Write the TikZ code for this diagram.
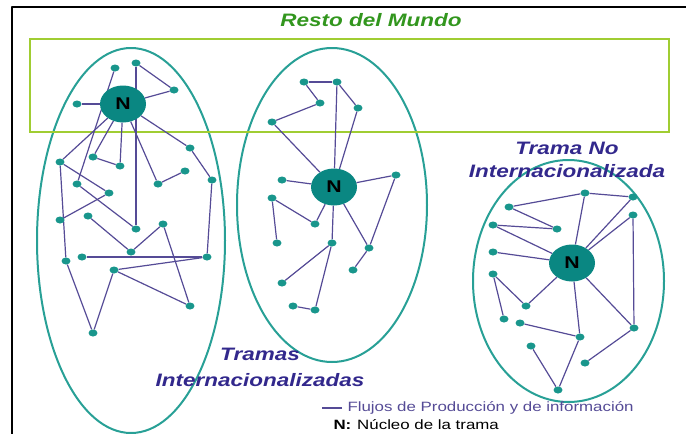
\documentclass[tikz,border=0pt]{standalone}
\usepackage{fontspec}
\setmainfont{Liberation Sans}
\usetikzlibrary{shapes.geometric, positioning}
\pgfdeclarelayer{back}
\pgfsetlayers{back,main}
\definecolor{tealdot}{RGB}{25,150,140}
\definecolor{tealring}{RGB}{40,160,150}
\definecolor{tealcore}{RGB}{10,135,130}
\definecolor{flowline}{RGB}{85,75,150}
\definecolor{mundogreen}{RGB}{160,205,50}
\definecolor{mundotext}{RGB}{50,150,30}
\definecolor{tramatext}{RGB}{50,40,140}
\newcommand{\wide}[1]{\scalebox{1.25}[1]{#1}}

\begin{document}
\begin{tikzpicture}[x=1pt, y=-1pt, line join=round]
    % Define styles
    \tikzstyle{dot} = [ellipse, fill=tealdot, inner sep=0pt, minimum width=9pt, minimum height=7pt]
    \tikzstyle{core} = [ellipse, fill=tealcore, inner sep=0pt, minimum width=46pt, minimum height=37pt, font=\fontsize{17}{17}\selectfont\bfseries]
    \tikzstyle{trama} = [ellipse, draw=tealring, line width=2pt, inner sep=0pt]
    \tikzstyle{flow} = [draw=flowline, line width=1.2pt]
    \tikzstyle{tramatitle} = [text=tramatext, align=center, font=\fontsize{18}{23}\selectfont\bfseries\itshape]
    \tikzstyle{legend} = [anchor=west, font=\fontsize{13.5}{14}\selectfont]
    \useasboundingbox (0,0) rectangle (686,434);

    % Frame
    \draw[line width=2.3pt] (686,7) -- (12,7) -- (12,434);

    % Groups and title
    \begin{pgfonlayer}{back}
    \node [trama, minimum width=188pt, minimum height=385pt] (tramaA) at (131,240.5) {};
    \node [trama, minimum width=190pt, minimum height=314pt] (tramaB) at (332,205) {};
    \node [trama, minimum width=191pt, minimum height=242pt] (tramaC) at (568.5,281) {};
    \node [draw=mundogreen, line width=2.5pt, minimum width=639pt, minimum height=93pt] (mundo) at (349.5,85.5) {};
    \end{pgfonlayer}
    \node [text=mundotext, font=\fontsize{18}{18}\selectfont\bfseries\itshape] (mundotitle) at (371,20) {\wide{Resto del Mundo}};

    % Nuclei
    \node [core] (nA) at (123,104) {\wide{N}};
    \node [core] (nB) at (334,187) {\wide{N}};
    \node [core] (nC) at (572,263) {\wide{N}};

    % Firms
    \foreach \n/\x/\y in {a1/115/68, a2/136/63, a3/174/90, a4/77/104, a5/190/148, a6/212/180,
        a7/60/162, a8/93/157, a9/120/166, a10/185/171, a11/158/184, a12/77/184, a13/109/193,
        a14/60/220, a15/88/216, a16/136/229, a17/163/224, a18/131/252, a19/82/257, a20/66/261,
        a21/207/257, a22/114/270, a23/190/306, a24/93/333,
        b1/304/82, b2/337/82, b3/320/103, b4/358/108, b5/272/122, b6/282/180, b7/396/175,
        b8/272/198, b9/315/224, b10/277/243, b11/332/243, b12/369/248, b13/353/270,
        b14/282/283, b15/293/306, b16/315/310,
        c1/585/193, c2/633/197, c3/509/207, c4/633/215, c5/493/225, c6/557/229, c7/493/252,
        c8/493/274, c9/526/306, c10/504/319, c11/520/323, c12/580/337, c13/634/328,
        c14/531/346, c15/585/363, c16/558/390}
        \node [dot] (\n) at (\x,\y) {};

    % Flows
    \begin{pgfonlayer}{back}
    \foreach \a/\b in {nA/a3, a2/a3, a2/a16, a4/nA, a1/a12, nA/a7, nA/a8, a8/a9, a9/nA,
        nA/a11, a11/a10, nA/a5, a5/a6, a6/a21, a21/a19, a21/a22, a22/a23, a23/a17,
        a17/a18, a18/a15, a7/a13, a13/a14, a12/a16, a7/a20, a20/a24, a24/a22,
        b1/b2, b1/b3, b3/b5, b5/nB, b2/nB, b2/b4, b4/nB, b6/nB, b7/nB, b8/b9, b8/b10,
        b9/nB, nB/b11, b11/b14, b11/b16, b16/b15, nB/b12, b7/b12, b12/b13,
        c3/c1, c1/c2, c1/nC, c2/nC, c4/nC, c4/c13, c3/c6, c5/c6, c5/nC, c7/nC,
        c8/c9, c8/c10, nC/c9, nC/c12, nC/c13, c11/c12, c12/c16, c16/c14, c13/c15}
        \draw[flow] (\a) -- (\b);
    \end{pgfonlayer}

    % Labels
    \node [tramatitle] (noint) at (567,159.5) {\wide{Trama No}\\\wide{Internacionalizada}};
    \node [tramatitle, font=\fontsize{18}{26}\selectfont\bfseries\itshape] (inter) at (260,367) {\wide{Tramas}\\\wide{Internacionalizadas}};

    % Legend
    \node [legend, text=flowline] (flujos) at (344,408) {\wide{Flujos de Producción y de información}};
    \draw[flow] ([xshift=-2pt]flujos.west) -- ++(-20,0);
    \node [legend] (nucleo) at (330,425) {\wide{\textbf{N:}\hspace{0.35em}Núcleo de la trama}};
\end{tikzpicture}
\end{document}
